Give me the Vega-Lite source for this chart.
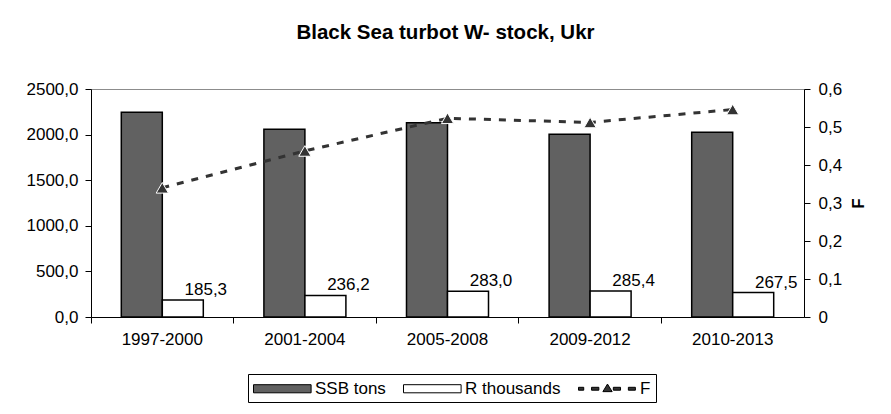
{
  "$schema": "https://vega.github.io/schema/vega-lite/v6.json",
  "autosize": {"type": "none"},
  "padding": {"left": 91, "top": 89, "right": 87, "bottom": 97},
  "width": 713,
  "height": 228,
  "title": {
    "text": "Black Sea turbot W- stock, Ukr",
    "fontSize": 20.5,
    "fontWeight": "bold",
    "font": "Liberation Sans",
    "color": "black",
    "anchor": "middle",
    "frame": "group",
    "dx": -2,
    "dy": -7,
    "offset": 30
  },
  "datasets": {
    "bars": [
      {"period": "1997-2000", "series": "SSB tons", "value": 2245},
      {"period": "1997-2000", "series": "R thousands", "value": 185.3},
      {"period": "2001-2004", "series": "SSB tons", "value": 2058},
      {"period": "2001-2004", "series": "R thousands", "value": 236.2},
      {"period": "2005-2008", "series": "SSB tons", "value": 2130},
      {"period": "2005-2008", "series": "R thousands", "value": 283.0},
      {"period": "2009-2012", "series": "SSB tons", "value": 2003},
      {"period": "2009-2012", "series": "R thousands", "value": 285.4},
      {"period": "2010-2013", "series": "SSB tons", "value": 2025},
      {"period": "2010-2013", "series": "R thousands", "value": 267.5}
    ],
    "f": [
      {"period": "1997-2000", "series": "F", "F": 0.34},
      {"period": "2001-2004", "series": "F", "F": 0.437},
      {"period": "2005-2008", "series": "F", "F": 0.523},
      {"period": "2009-2012", "series": "F", "F": 0.512},
      {"period": "2010-2013", "series": "F", "F": 0.546}
    ]
  },
  "encoding": {
    "x": {
      "field": "period",
      "type": "nominal",
      "sort": ["1997-2000", "2001-2004", "2005-2008", "2009-2012", "2010-2013"],
      "scale": {"paddingInner": 0, "paddingOuter": 0},
      "axis": {
        "title": null,
        "labelAngle": 0,
        "bandPosition": 0,
        "labelOffset": 0,
        "tickSize": 6,
        "labelPadding": 8,
        "domainColor": "black",
        "tickColor": "black",
        "labelColor": "black",
        "labelFontSize": 17,
        "grid": false
      }
    }
  },
  "layer": [
    {
      "data": {"name": "bars"},
      "layer": [
        {
          "mark": {"type": "bar", "stroke": "black", "strokeWidth": 1.5},
          "encoding": {
            "xOffset": {
              "field": "series",
              "type": "nominal",
              "sort": ["SSB tons", "R thousands"],
              "scale": {"domain": ["SSB tons", "R thousands"], "paddingInner": 0, "paddingOuter": 0.739}
            },
            "y": {
              "field": "value",
              "type": "quantitative",
              "scale": {"domain": [0, 2500], "nice": false},
              "axis": {
                "title": null,
                "values": [0, 500, 1000, 1500, 2000, 2500],
                "format": ".1f",
                "grid": false,
                "labelOverlap": false,
                "tickSize": 6,
                "labelPadding": 7,
                "domainColor": "black",
                "tickColor": "black",
                "labelColor": "black",
                "labelFontSize": 17
              }
            },
            "fill": {
              "field": "series",
              "type": "nominal",
              "scale": {"domain": ["SSB tons", "R thousands", "F"], "range": ["#616161", "#ffffff", "#333333"]},
              "legend": {
                "title": null,
                "orient": "none",
                "legendX": 157,
                "legendY": 285,
                "direction": "horizontal",
                "strokeColor": "black",
                "fillColor": "white",
                "padding": 5,
                "columnPadding": 15,
                "labelOffset": 43,
                "labelFontSize": 17,
                "labelColor": "black",
                "symbolSize": 324,
                "symbolOpacity": 1
              }
            }
          }
        },
        {
          "transform": [{"filter": "datum.series === 'R thousands'"}],
          "mark": {"type": "text", "fontSize": 17, "color": "black", "baseline": "alphabetic", "dx": 23, "dy": -5},
          "encoding": {
            "xOffset": {
              "field": "series",
              "type": "nominal",
              "scale": {"domain": ["SSB tons", "R thousands"], "paddingInner": 0, "paddingOuter": 0.739}
            },
            "y": {
              "field": "value",
              "type": "quantitative",
              "scale": {"domain": [0, 2500], "nice": false},
              "axis": {
                "title": null,
                "values": [0, 500, 1000, 1500, 2000, 2500],
                "format": ".1f",
                "grid": false,
                "labelOverlap": false,
                "tickSize": 6,
                "labelPadding": 7,
                "domainColor": "black",
                "tickColor": "black",
                "labelColor": "black",
                "labelFontSize": 17
              }
            },
            "text": {"field": "value", "type": "quantitative", "format": ".1f"}
          }
        }
      ]
    },
    {
      "data": {"name": "f"},
      "layer": [
        {
          "mark": {"type": "line", "color": "#333333", "strokeWidth": 3, "strokeDash": [7, 8]},
          "encoding": {
            "y": {
              "field": "F",
              "type": "quantitative",
              "scale": {"domain": [0, 0.6], "nice": false},
              "axis": {
                "title": "F",
                "orient": "right",
                "values": [0, 0.1, 0.2, 0.3, 0.4, 0.5, 0.6],
                "format": ".1~f",
                "grid": false,
                "labelOverlap": false,
                "tickSize": 6,
                "labelPadding": 8,
                "domainColor": "black",
                "tickColor": "black",
                "labelColor": "black",
                "labelFontSize": 17,
                "titleFontSize": 17,
                "titleFontWeight": "bold",
                "titleColor": "black",
                "titleAngle": 270,
                "titlePadding": 26
              }
            }
          }
        },
        {
          "mark": {"type": "point", "shape": "triangle-up", "filled": true, "fill": "#333333", "size": 150, "stroke": "white", "strokeWidth": 1, "opacity": 1},
          "encoding": {
            "y": {
              "field": "F",
              "type": "quantitative",
              "scale": {"domain": [0, 0.6], "nice": false},
              "axis": {
                "title": "F",
                "orient": "right",
                "values": [0, 0.1, 0.2, 0.3, 0.4, 0.5, 0.6],
                "format": ".1~f",
                "grid": false,
                "labelOverlap": false,
                "tickSize": 6,
                "labelPadding": 8,
                "domainColor": "black",
                "tickColor": "black",
                "labelColor": "black",
                "labelFontSize": 17,
                "titleFontSize": 17,
                "titleFontWeight": "bold",
                "titleColor": "black",
                "titleAngle": 270,
                "titlePadding": 26
              }
            }
          }
        },
        {
          "mark": {"type": "point", "filled": true, "opacity": 0},
          "encoding": {
            "y": {
              "field": "F",
              "type": "quantitative",
              "scale": {"domain": [0, 0.6], "nice": false},
              "axis": {
                "title": "F",
                "orient": "right",
                "values": [0, 0.1, 0.2, 0.3, 0.4, 0.5, 0.6],
                "format": ".1~f",
                "grid": false,
                "labelOverlap": false,
                "tickSize": 6,
                "labelPadding": 8,
                "domainColor": "black",
                "tickColor": "black",
                "labelColor": "black",
                "labelFontSize": 17,
                "titleFontSize": 17,
                "titleFontWeight": "bold",
                "titleColor": "black",
                "titleAngle": 270,
                "titlePadding": 26
              }
            },
            "fill": {"field": "series", "type": "nominal"},
            "shape": {
              "field": "series",
              "type": "nominal",
              "scale": {
                "domain": ["SSB tons", "R thousands", "F"],
                "range": [
                  "M-1,-0.45H5.4V0.45H-1Z",
                  "M-1,-0.45H5.4V0.45H-1Z",
                  "M-1,-0.16H-0.42V0.16H-1Z M0.45,-0.16H1.26V0.16H0.45Z M1.71,0.32L2.22,-0.52L2.74,0.32Z M2.87,-0.16H3.67V0.16H2.87Z M4.54,-0.16H5.32V0.16H4.54Z"
                ]
              },
              "legend": {
                "title": null,
                "orient": "none",
                "legendX": 157,
                "legendY": 285,
                "direction": "horizontal",
                "strokeColor": "black",
                "fillColor": "white",
                "padding": 5,
                "columnPadding": 15,
                "labelOffset": 43,
                "labelFontSize": 17,
                "labelColor": "black",
                "symbolSize": 324,
                "symbolOpacity": 1,
                "symbolStrokeColor": "black",
                "symbolStrokeWidth": 1
              }
            }
          }
        }
      ]
    }
  ],
  "resolve": {"scale": {"y": "independent"}},
  "config": {
    "font": "Liberation Sans",
    "view": {"stroke": "#8c8c8c"},
    "locale": {"number": {"decimal": ",", "thousands": "", "grouping": [3], "currency": ["", ""]}}
  }
}
